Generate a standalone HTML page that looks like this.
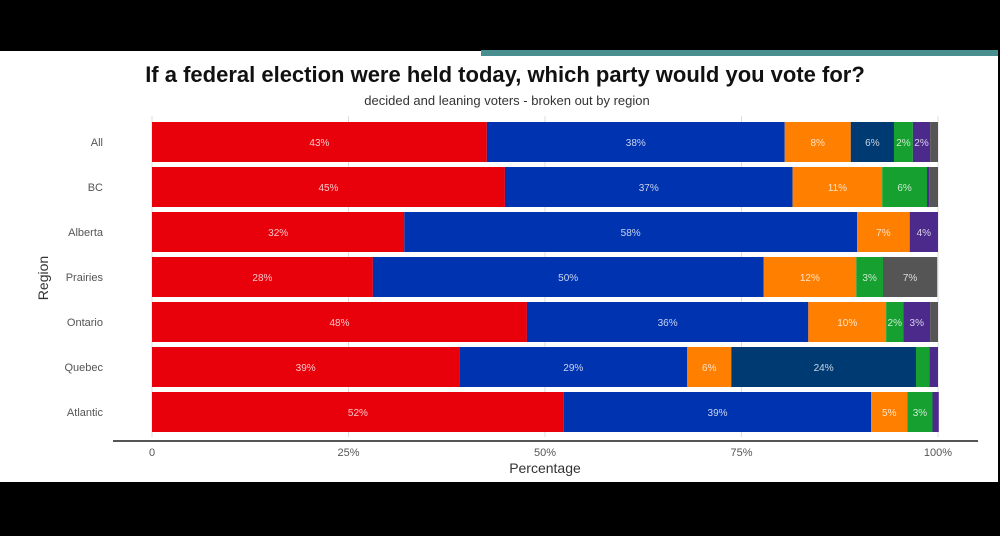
<!DOCTYPE html>
<html><head><meta charset="utf-8"><style>
body{margin:0;width:1000px;height:531px;background:#000;overflow:hidden;font-family:"Liberation Sans",sans-serif}
</style></head><body>
<svg id="c" width="1000" height="531">
<rect x="0" y="51" width="998" height="431" fill="#fff"/>
<rect x="481" y="50" width="517" height="6" fill="#4a8f8f"/>
<text x="505" y="82" text-anchor="middle" font-size="22" font-weight="bold" fill="#111">If a federal election were held today, which party would you vote for?</text>
<text x="507" y="105" text-anchor="middle" font-size="13" fill="#333">decided and leaning voters - broken out by region</text>
<g id="grid"></g><g id="bars"></g><g id="axes"></g>
<text x="48" y="278" text-anchor="middle" font-size="14" fill="#333" transform="rotate(-90 48 278)">Region</text>
<text x="545" y="473" text-anchor="middle" font-size="14" fill="#333">Percentage</text>
</svg>
<script>
const regions=["All","BC","Alberta","Prairies","Ontario","Quebec","Atlantic"];
const parties=["Liberal","Conservative","NDP","Bloc","Green","PPC","Other"];
const liberal=[42.6,44.9,32.1,28.1,47.7,39.1,52.4];
const conservative=[37.9,36.6,57.6,49.7,35.8,29.0,39.1];
const ndp=[8.4,11.4,6.7,11.8,9.9,5.6,4.6];
const bloc=[5.5,0,0,0,0,23.5,0];
const green=[2.4,5.7,0,3.4,2.2,1.7,3.2];
const ppc=[2.2,0.3,3.6,0,3.4,1.1,0.8];
const other=[1.0,1.1,0,6.9,1.0,0,0];
const ticks=[0,25,50,75,100];
const tickLabels=["0","25%","50%","75%","100%"];
const series=[liberal,conservative,ndp,bloc,green,ppc,other];
const colors=["#e8000b","#0033b0","#ff7f00","#003a73","#16a02f","#4b2a8c","#555555"];
const ns="http://www.w3.org/2000/svg";
const X0=152,X1=938,Y0=120,STEP=45,BH=40;
const x=v=>X0+(X1-X0)*v/100;
const y=i=>Y0+i*STEP+2;
const bars=document.getElementById('bars'),grid=document.getElementById('grid'),axes=document.getElementById('axes');
function mk(t,a,p){const e=document.createElementNS(ns,t);for(const k in a)e.setAttribute(k,a[k]);p.appendChild(e);return e;}
ticks.forEach((t,i)=>{
 const g=mk('line',{x1:x(t),x2:x(t),y1:116,y2:437,stroke:'#ddd','stroke-width':1},grid);
 
 
 const l=mk('text',{x:x(t),y:456,'text-anchor':'middle','font-size':11,fill:'#555'},axes);
 l.textContent=tickLabels[i];
 
 
});
const ax=mk('line',{x1:113,x2:978,y1:441,y2:441,stroke:'#555','stroke-width':2},axes);


regions.forEach((r,i)=>{
 const lab=mk('text',{x:103,y:y(i)+BH/2+4,'text-anchor':'end','font-size':11,fill:'#555'},axes);
 lab.textContent=r;
 
 
 let acc=0;
 series.forEach((s,j)=>{
  const v=s[i]; if(!v) return;
  const rc=mk('rect',{x:x(acc),y:y(i),width:x(acc+v)-x(acc),height:BH,fill:colors[j]},bars);
  
  
  if(v>=2){
   const t=mk('text',{x:(x(acc)+x(acc+v))/2,y:y(i)+BH/2+4,'text-anchor':'middle','font-size':10,fill:'rgba(255,255,255,0.78)'},bars);
   t.textContent=Math.round(v)+'%';
   
   
  }
  acc+=v;
 });
});
</script>
</body></html>
